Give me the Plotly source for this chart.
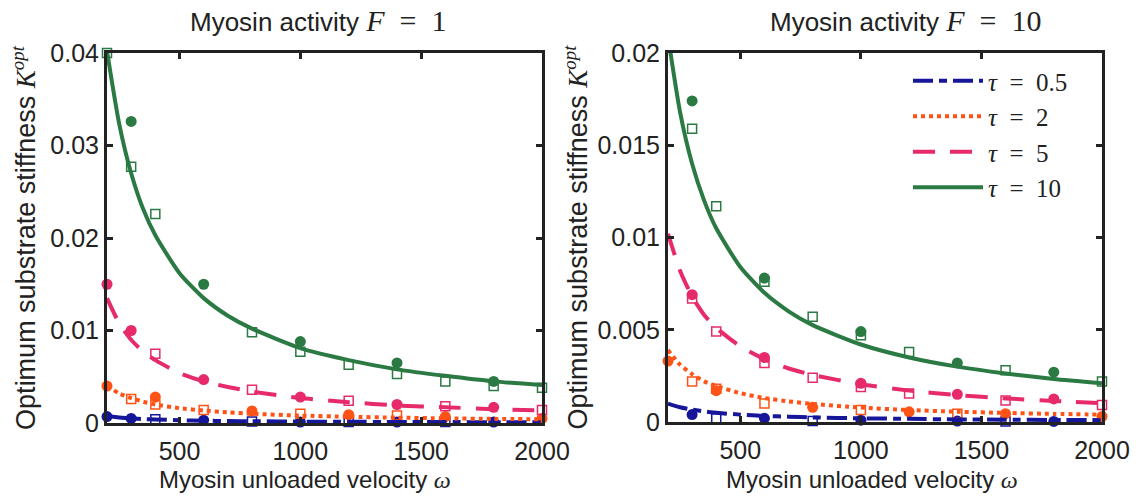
import plotly.graph_objects as go

# ---------------- data ----------------
omega_curve = [200, 250, 300, 350, 400, 500, 600, 700, 800, 1000, 1200, 1400, 1600, 1800, 2000]
tau_labels = ["0.5", "2", "5", "10"]

# F = 1 model curves
f1_curve_t05 = [0.00075, 0.0006, 0.0005, 0.00043, 0.00038, 0.0003, 0.00025, 0.00021, 0.00019, 0.00015, 0.00013, 0.00011, 0.0001, 0.00009, 0.00008]
f1_curve_t2 = [0.0040, 0.0032, 0.0027, 0.0023, 0.0020, 0.0016, 0.00135, 0.00115, 0.0010, 0.0008, 0.00068, 0.00058, 0.0005, 0.00045, 0.0004]
f1_curve_t5 = [0.0135, 0.0108, 0.0090, 0.0077, 0.0068, 0.0054, 0.0045, 0.0039, 0.0034, 0.0027, 0.00225, 0.0019, 0.0017, 0.0015, 0.00135]
f1_curve_t10 = [0.0402, 0.0324, 0.0270, 0.0231, 0.0203, 0.0162, 0.0135, 0.0116, 0.0102, 0.0081, 0.0068, 0.0058, 0.0051, 0.0045, 0.0041]

# F = 10 model curves
f10_curve_t05 = [0.0010, 0.0008, 0.00067, 0.00057, 0.0005, 0.0004, 0.00033, 0.00029, 0.00025, 0.0002, 0.00017, 0.00014, 0.000125, 0.00011, 0.0001]
f10_curve_t2 = [0.0039, 0.0031, 0.0026, 0.0022, 0.00195, 0.00156, 0.0013, 0.00112, 0.00098, 0.00078, 0.00065, 0.00056, 0.00049, 0.00044, 0.0004]
f10_curve_t5 = [0.0102, 0.0082, 0.0068, 0.0058, 0.0051, 0.0041, 0.0034, 0.0029, 0.00255, 0.00205, 0.0017, 0.00146, 0.00128, 0.00114, 0.00102]
f10_curve_t10 = [0.0209, 0.0168, 0.0140, 0.0120, 0.0105, 0.0084, 0.0070, 0.0060, 0.00525, 0.0042, 0.0035, 0.0030, 0.00263, 0.00233, 0.0021]

# F = 1 simulation points (filled circles / open squares)
f1_circ_t05_x = [200, 300, 600, 1000, 1400, 1800]
f1_circ_t05_y = [0.0007, 0.0005, 0.0003, 0.0001, 0.0001, 0.0001]
f1_sq_t05_x = [400, 800, 1200, 1600]
f1_sq_t05_y = [0.0004, 0.00015, 0.0001, 0.0001]
f1_circ_t2_x = [200, 400, 800, 1200, 1600, 2000]
f1_circ_t2_y = [0.0040, 0.0028, 0.0013, 0.0009, 0.0007, 0.0005]
f1_sq_t2_x = [300, 400, 600, 1000, 1400]
f1_sq_t2_y = [0.0026, 0.0020, 0.0014, 0.0010, 0.0008]
f1_circ_t5_x = [200, 300, 600, 1000, 1400, 1800]
f1_circ_t5_y = [0.0150, 0.0100, 0.0047, 0.0028, 0.0020, 0.0017]
f1_sq_t5_x = [400, 800, 1200, 1600, 2000]
f1_sq_t5_y = [0.0075, 0.0036, 0.0024, 0.0018, 0.0014]
f1_circ_t10_x = [300, 600, 1000, 1400, 1800]
f1_circ_t10_y = [0.0326, 0.0150, 0.0088, 0.0065, 0.0045]
f1_sq_t10_x = [200, 300, 400, 800, 1000, 1200, 1400, 1600, 1800, 2000]
f1_sq_t10_y = [0.0400, 0.0277, 0.0226, 0.0098, 0.0077, 0.0063, 0.0053, 0.0045, 0.0040, 0.0038]

# F = 10 simulation points
f10_circ_t05_x = [300, 600, 1000, 1400, 1800]
f10_circ_t05_y = [0.0004, 0.0002, 0.0001, 0.00005, 0.00003]
f10_sq_t05_x = [400, 800, 1600]
f10_sq_t05_y = [0.0002, 0.00005, 0.00003]
f10_circ_t2_x = [200, 400, 800, 1200, 1600, 2000]
f10_circ_t2_y = [0.0033, 0.0017, 0.0008, 0.00055, 0.00045, 0.0003]
f10_sq_t2_x = [300, 400, 600, 1000, 1400]
f10_sq_t2_y = [0.0022, 0.0018, 0.0010, 0.00065, 0.00045]
f10_circ_t5_x = [300, 600, 1000, 1400, 1800]
f10_circ_t5_y = [0.0069, 0.0035, 0.0021, 0.0015, 0.00125]
f10_sq_t5_x = [300, 400, 600, 800, 1000, 1200, 1600, 2000]
f10_sq_t5_y = [0.0067, 0.0049, 0.0032, 0.0024, 0.0019, 0.00155, 0.00116, 0.00092]
f10_circ_t10_x = [300, 600, 1000, 1400, 1800]
f10_circ_t10_y = [0.0174, 0.0078, 0.0049, 0.0032, 0.0027]
f10_sq_t10_x = [300, 400, 600, 800, 1000, 1200, 1600, 2000]
f10_sq_t10_y = [0.0159, 0.0117, 0.0076, 0.0057, 0.0047, 0.0038, 0.0028, 0.0022]

x_tickvals = [500, 1000, 1500, 2000]
x_ticktext = ["500", "1000", "1500", "2000"]
y1_tickvals = [0, 0.01, 0.02, 0.03, 0.04]
y1_ticktext = ["0", "0.01", "0.02", "0.03", "0.04"]
y2_tickvals = [0, 0.005, 0.01, 0.015, 0.02]
y2_ticktext = ["0", "0.005", "0.01", "0.015", "0.02"]

# ---------------- styles ----------------
colors = ["#16169a", "#ff5216", "#e62a6c", "#2b7a43"]
dashes = ["20px,6px,8px,6px", "4px,4px", "22px,15px", "solid"]
LW = 4

SANS = "Liberation Sans, Arial, sans-serif"
SERIF = "Liberation Serif, Times New Roman, serif"
INK = "#222222"
NB = "\u2002"

fig = go.Figure()

panels = [
    dict(xa="x", ya="y",
         curves=[f1_curve_t05, f1_curve_t2, f1_curve_t5, f1_curve_t10],
         circ=[(f1_circ_t05_x, f1_circ_t05_y), (f1_circ_t2_x, f1_circ_t2_y), (f1_circ_t5_x, f1_circ_t5_y), (f1_circ_t10_x, f1_circ_t10_y)],
         sq=[(f1_sq_t05_x, f1_sq_t05_y), (f1_sq_t2_x, f1_sq_t2_y), (f1_sq_t5_x, f1_sq_t5_y), (f1_sq_t10_x, f1_sq_t10_y)],
         legend=False),
    dict(xa="x2", ya="y2",
         curves=[f10_curve_t05, f10_curve_t2, f10_curve_t5, f10_curve_t10],
         circ=[(f10_circ_t05_x, f10_circ_t05_y), (f10_circ_t2_x, f10_circ_t2_y), (f10_circ_t5_x, f10_circ_t5_y), (f10_circ_t10_x, f10_circ_t10_y)],
         sq=[(f10_sq_t05_x, f10_sq_t05_y), (f10_sq_t2_x, f10_sq_t2_y), (f10_sq_t5_x, f10_sq_t5_y), (f10_sq_t10_x, f10_sq_t10_y)],
         legend=True),
]

for p in panels:
    for i in range(4):
        cx, cy = p["circ"][i]
        fig.add_trace(go.Scatter(x=cx, y=cy, mode="markers", xaxis=p["xa"], yaxis=p["ya"],
                                 marker=dict(symbol="circle", size=11, color=colors[i], line=dict(width=0)),
                                 showlegend=False, cliponaxis=False, hoverinfo="skip"))
        sx, sy = p["sq"][i]
        fig.add_trace(go.Scatter(x=sx, y=sy, mode="markers", xaxis=p["xa"], yaxis=p["ya"],
                                 marker=dict(symbol="square-open", size=9, color=colors[i], line=dict(width=1.5, color=colors[i])),
                                 showlegend=False, cliponaxis=False, hoverinfo="skip"))
    for i in range(4):
        fig.add_trace(go.Scatter(x=omega_curve, y=p["curves"][i], mode="lines", xaxis=p["xa"], yaxis=p["ya"],
                                 line=dict(color=colors[i], width=LW, dash=dashes[i], shape="spline", smoothing=0.6),
                                 name="<i>τ</i>" + NB + "=" + NB + tau_labels[i], showlegend=p["legend"], hoverinfo="skip"))

axis_common = dict(showline=True, linewidth=3, linecolor=INK, mirror="ticks", ticks="inside",
                   ticklen=6, tickwidth=3, tickcolor=INK, showgrid=False, zeroline=False, automargin=False,
                   tickfont=dict(family=SANS, size=25, color=INK))

xt = "Myosin unloaded velocity <span style='font-family:Liberation Serif'><i>ω</i></span>"
yt = "Optimum substrate stiffness <span style='font-family:Liberation Serif'><i>K</i><sup><i>opt</i></sup></span>"

fig.update_layout(
    width=1136, height=498, margin=dict(l=0, r=0, t=0, b=0, autoexpand=False),
    paper_bgcolor="white", plot_bgcolor="white",
    xaxis=dict(domain=[107/1136, 542/1136], range=[200, 2000], tickvals=x_tickvals, ticktext=x_ticktext,
               ticklabelstandoff=4, anchor="y", **axis_common),
    yaxis=dict(domain=[75/498, 445/498], range=[0, 0.04], tickvals=y1_tickvals, ticktext=y1_ticktext,
               ticklabelstandoff=0, title=dict(text=yt, font=dict(family=SANS, size=27, color=INK), standoff=7),
               anchor="x", **axis_common),
    xaxis2=dict(domain=[668/1136, 1102/1136], range=[200, 2000], tickvals=x_tickvals, ticktext=x_ticktext,
                ticklabelstandoff=4, anchor="y2", **axis_common),
    yaxis2=dict(domain=[76/498, 445/498], range=[0, 0.02], tickvals=y2_tickvals, ticktext=y2_ticktext,
                ticklabelstandoff=0, title=dict(text=yt, font=dict(family=SANS, size=27, color=INK), standoff=2),
                anchor="x2", **axis_common),
    legend=dict(x=908/1136, y=(498-58)/498, xanchor="left", yanchor="top", bgcolor="rgba(0,0,0,0)",
                borderwidth=0, font=dict(family=SERIF, size=25, color=INK), itemwidth=70,
                tracegroupgap=0),
    showlegend=True,
)

titles = [("Myosin activity <span style='font-family:Liberation Serif;font-size:30px'><i>F</i>" + NB + "=" + NB + "1</span>", 318/1136),
          ("Myosin activity <span style='font-family:Liberation Serif;font-size:30px'><i>F</i>" + NB + "=" + NB + "10</span>", 906/1136)]
for txt, xc in titles:
    fig.add_annotation(text=txt, x=xc, y=1-20/498, xref="paper", yref="paper", showarrow=False,
                       xanchor="center", yanchor="middle", font=dict(family=SANS, size=26, color=INK))

xtitles = [305/1136, 872/1136]
for xc in xtitles:
    fig.add_annotation(text=xt, x=xc, y=1-479/498, xref="paper", yref="paper", showarrow=False,
                       xanchor="center", yanchor="middle", font=dict(family=SANS, size=24, color=INK))

fig.write_html("out.html", config={"displayModeBar": False},
               post_script="document.body.style.margin='0';document.body.style.padding='0';")
